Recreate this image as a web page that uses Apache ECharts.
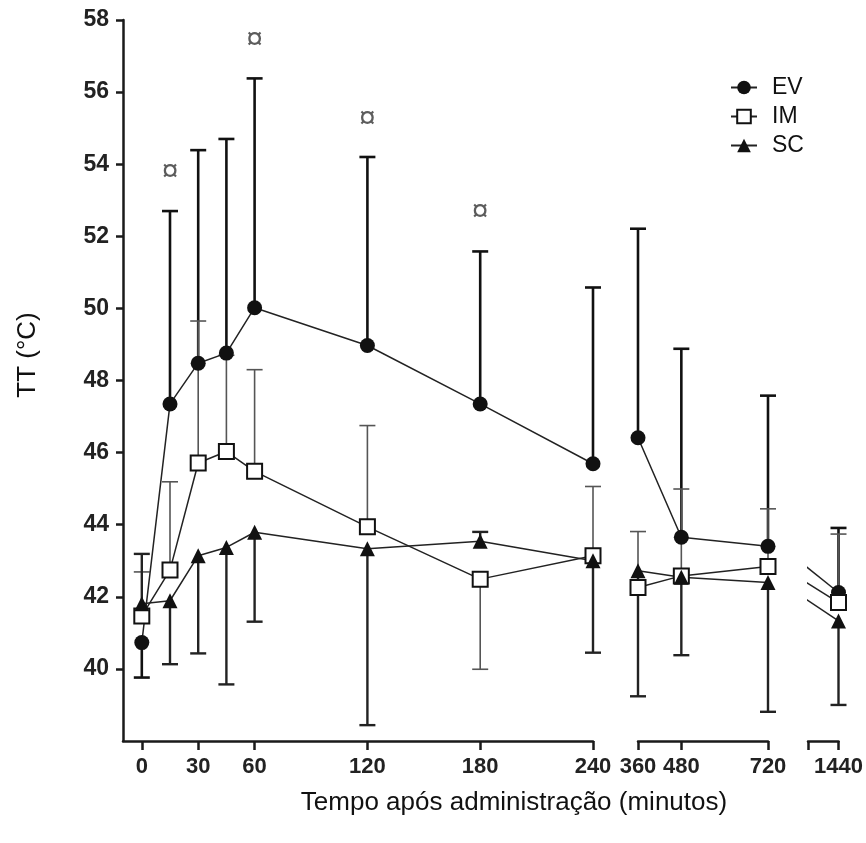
<!DOCTYPE html>
<html>
<head>
<meta charset="utf-8">
<script src="https://cdn.jsdelivr.net/npm/echarts@6/dist/echarts.min.js"></script>
<style>
  html, body { margin: 0; padding: 0; background: #fff; }
  #chart { width: 866px; height: 843px; }
</style>
</head>
<body>
<div id="chart"></div>
<script>
// tempo (minutos)
const times = [0, 15, 30, 45, 60, 120, 180, 240, 360, 480, 720, 1440];

// médias
const evMean = [40.73, 47.35, 48.48, 48.76, 50.02, 48.97, 47.35, 45.69, 46.41, 43.65, 43.40, 42.12];
const imMean = [41.47, 42.74, 45.71, 46.03, 45.48, 43.94, 42.49, 43.14, 42.26, 42.58, 42.84, 41.84];
const scMean = [41.81, 41.89, 43.14, 43.37, 43.79, 43.33, 43.54, 43.00, 42.72, 42.54, 42.40, 41.33];

// barras de erro (um só lado)
const evUpper = [null, 52.70, 54.39, 54.70, 56.38, 54.20, 51.58, 50.58, 52.21, 48.88, 47.58, 43.91];
const evLower = [39.76, null, null, null, null, null, null, null, null, null, null, null];
const imUpper = [42.69, 45.19, 49.65, 48.70, 48.30, 46.75, null, 45.06, 43.81, 44.99, 44.44, 43.74];
const imLower = [null, null, null, null, null, null, 39.99, null, null, null, null, null];
const scUpper = [43.19, null, null, null, null, null, 43.80, null, null, null, null, null];
const scLower = [null, 40.13, 40.43, 39.57, 41.31, 38.44, null, 40.45, 39.24, 40.38, 38.81, 39.00];

// diferenças significativas
const sigTimes = [15, 60, 120, 180];
const sigValues = [53.8, 57.44, 55.27, 52.67];

// eixos
const yTicks = [40, 42, 44, 46, 48, 50, 52, 54, 56, 58];
const seg1Ticks = [0, 30, 60, 120, 180, 240];
const seg2Ticks = [360, 480, 720];
const seg3Ticks = [1440];

const seg1 = [0, 1, 2, 3, 4, 5, 6, 7];
const seg2 = [8, 9, 10];
const seg3 = [11];

const groups = [
  {name: 'EV', mean: evMean, upper: evUpper, lower: evLower,
   symbol: 'circle', fill: '#111', barColor: '#111', barWidth: 2.6},
  {name: 'IM', mean: imMean, upper: imUpper, lower: imLower,
   symbol: 'rect', fill: '#fff', barColor: '#555', barWidth: 1.6},
  {name: 'SC', mean: scMean, upper: scUpper, lower: scLower,
   symbol: 'triangle', fill: '#111', barColor: '#222', barWidth: 2.4}
];

const textFont = "'Liberation Sans', Arial, sans-serif";

function pts(arr, idx) {
  return idx.map(i => [times[i], arr[i]]);
}

function barData(g, idx) {
  let out = [];
  idx.forEach(i => {
    if (g.upper[i] != null) out.push([times[i], g.mean[i], g.upper[i]]);
    if (g.lower[i] != null) out.push([times[i], g.mean[i], g.lower[i]]);
  });
  return out;
}

function barSeries(g, idx, gi) {
  return {
    type: 'custom',
    name: g.name + '-sd',
    xAxisIndex: gi,
    yAxisIndex: gi,
    z: 1,
    silent: true,
    clip: false,
    encode: {x: 0, y: [1, 2]},
    data: barData(g, idx),
    renderItem: function (params, api) {
      const x = api.value(0);
      const p0 = api.coord([x, api.value(1)]);
      const p1 = api.coord([x, api.value(2)]);
      const st = {stroke: g.barColor, lineWidth: g.barWidth};
      return {
        type: 'group',
        children: [
          {type: 'line', shape: {x1: p0[0], y1: p0[1], x2: p1[0], y2: p1[1]}, style: st},
          {type: 'line', shape: {x1: p1[0] - 8, y1: p1[1], x2: p1[0] + 8, y2: p1[1]}, style: st}
        ]
      };
    }
  };
}

function lineSeries(g, data, gi, showSymbol, clip) {
  return {
    type: 'line',
    name: g.name,
    xAxisIndex: gi,
    yAxisIndex: gi,
    z: 3,
    clip: clip,
    data: data,
    symbol: showSymbol ? g.symbol : 'none',
    symbolSize: 15,
    showSymbol: showSymbol,
    lineStyle: {color: '#222', width: 1.5},
    itemStyle: {color: g.fill, borderColor: '#111', borderWidth: g.symbol === 'rect' ? 2 : 0},
    emphasis: {disabled: true},
    animation: false
  };
}

let series = [];
groups.forEach(g => {
  series.push(barSeries(g, seg1, 0));
  series.push(barSeries(g, seg2, 1));
  series.push(barSeries(g, seg3, 2));
});
groups.forEach(g => {
  series.push(lineSeries(g, pts(g.mean, seg1), 0, true, false));
  series.push(lineSeries(g, pts(g.mean, seg2), 1, true, false));
  // traço da quebra: segmento 720 -> 1440 cortado pela grelha
  series.push(lineSeries(g, pts(g.mean, [10, 11]), 2, false, true));
  series.push(lineSeries(g, pts(g.mean, seg3), 2, true, false));
});
series.push({
  type: 'scatter',
  name: 'sig',
  xAxisIndex: 0,
  yAxisIndex: 0,
  symbolSize: 1,
  itemStyle: {color: 'transparent'},
  data: sigTimes.map((t, i) => [t, sigValues[i]]),
  label: {
    show: true,
    position: 'inside',
    formatter: '¤',
    fontSize: 30,
    color: '#333',
    fontFamily: textFont
  },
  silent: true
});

function xAxisCfg(gi, min, max, ticks, labels) {
  return {
    type: 'value',
    gridIndex: gi,
    min: min,
    max: max,
    axisLine: {show: true, onZero: false, lineStyle: {color: '#1a1a1a', width: 2.5}},
    axisTick: {show: true, inside: false, length: 9, customValues: ticks,
      lineStyle: {color: '#1a1a1a', width: 2.5}},
    axisLabel: {show: true, customValues: labels, margin: 15,
      formatter: v => String(v),
      fontSize: 22, fontWeight: 'bold', color: '#222', fontFamily: textFont},
    splitLine: {show: false}
  };
}

function yAxisCfg(gi, show) {
  return {
    type: 'value',
    gridIndex: gi,
    min: 38,
    max: 58,
    show: show,
    axisLine: {show: true, onZero: false, lineStyle: {color: '#1a1a1a', width: 2.5}},
    axisTick: {show: true, inside: false, length: 7, customValues: yTicks,
      lineStyle: {color: '#1a1a1a', width: 2.5}},
    axisLabel: {show: true, customValues: yTicks, margin: 14,
      fontSize: 23, fontWeight: 'bold', color: '#222', fontFamily: textFont},
    splitLine: {show: false}
  };
}

const chart = echarts.init(document.getElementById('chart'));
chart.setOption({
  backgroundColor: '#fff',
  animation: false,
  grid: [
    {left: 123, top: 20, width: 470, height: 721},
    {left: 638, top: 20, width: 130, height: 721},
    {left: 808, top: 20, width: 30.5, height: 721}
  ],
  xAxis: [
    xAxisCfg(0, -10, 240, seg1Ticks, seg1Ticks),
    xAxisCfg(1, 360, 720, seg2Ticks, seg2Ticks),
    xAxisCfg(2, 1060, 1440, [1060].concat(seg3Ticks), seg3Ticks)
  ],
  yAxis: [yAxisCfg(0, true), yAxisCfg(1, false), yAxisCfg(2, false)],
  legend: {
    data: ['EV', 'IM', 'SC'],
    orient: 'vertical',
    left: 725,
    top: 71,
    itemWidth: 26,
    itemHeight: 17,
    itemGap: 6,
    textStyle: {fontSize: 23, color: '#111', fontFamily: textFont, padding: [0, 0, 0, 10]}
  },
  graphic: [
    {type: 'text', x: 28, y: 355, rotation: Math.PI / 2,
      style: {text: 'TT (°C)', font: '26px ' + textFont, fill: '#111',
        textAlign: 'center', textVerticalAlign: 'middle'}},
    {type: 'text', x: 514, y: 803,
      style: {text: 'Tempo após administração (minutos)', font: '26px ' + textFont, fill: '#111',
        textAlign: 'center', textVerticalAlign: 'middle'}}
  ],
  series: series
});
</script>
</body>
</html>
